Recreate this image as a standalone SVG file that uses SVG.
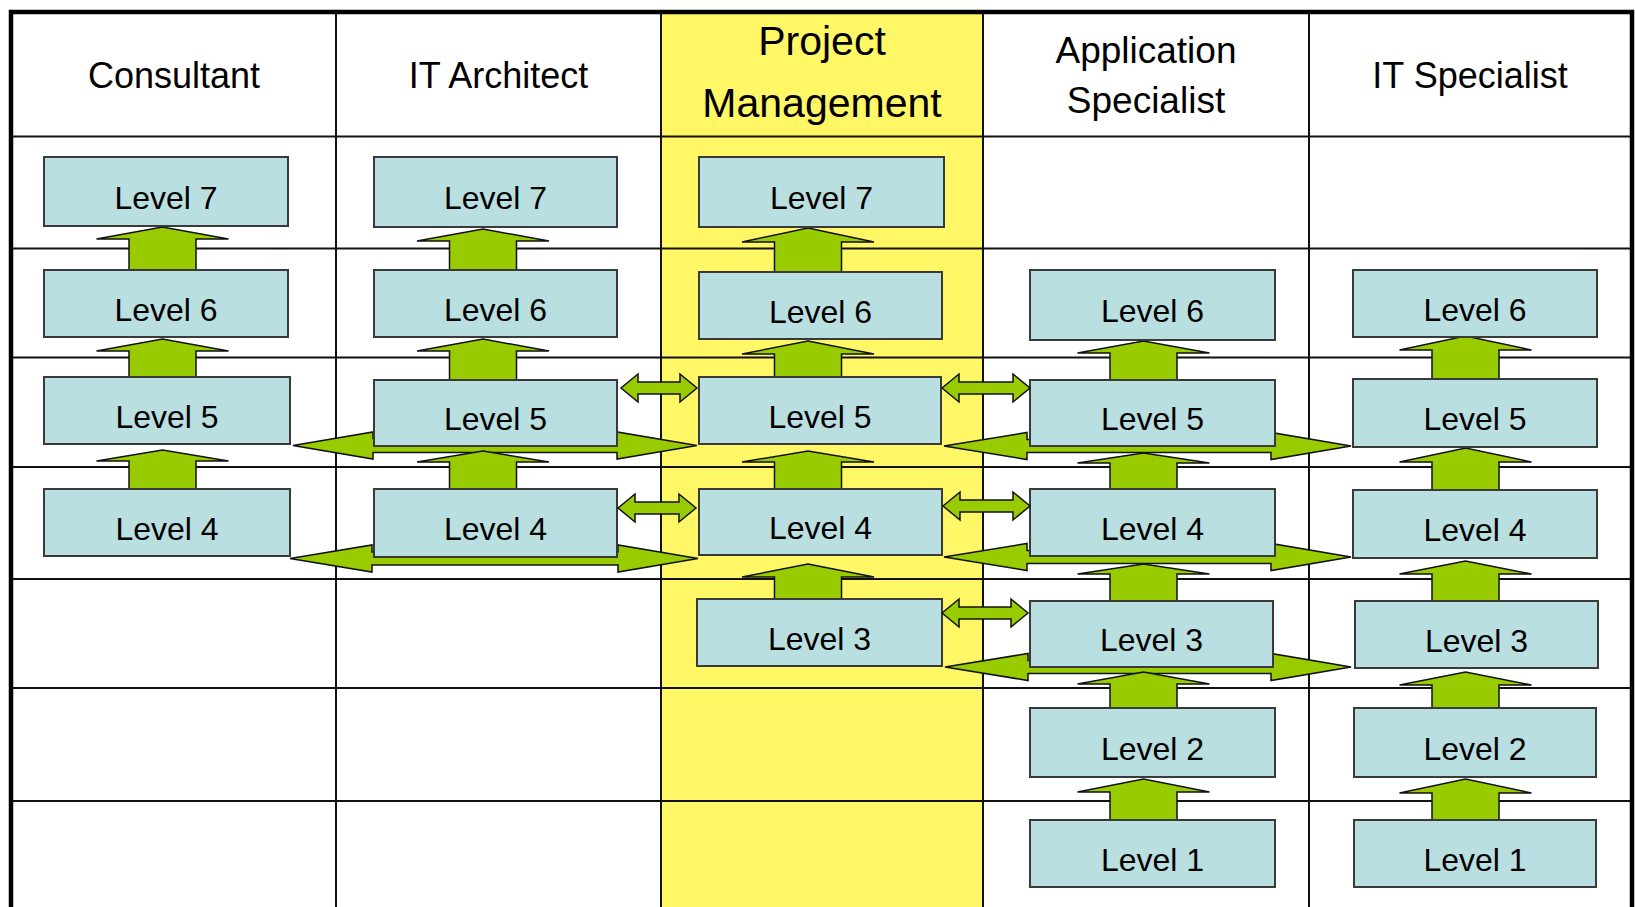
<svg xmlns="http://www.w3.org/2000/svg" width="1635" height="907" viewBox="0 0 1635 907">
<style>
.grid{stroke:#111;stroke-width:2;fill:none}
.border{stroke:#000;stroke-width:4.5;fill:none}
.hdr{font-family:"Liberation Sans",Arial,sans-serif;font-size:36px;fill:#000;text-anchor:middle}
.box rect{fill:#b9dfe0;stroke:#3a3a3a;stroke-width:2}
.box text{font-family:"Liberation Sans",Arial,sans-serif;font-size:32px;fill:#000;text-anchor:middle}
.arr{fill:#99cc00;stroke:#111;stroke-width:1.5;stroke-linejoin:miter}
</style>
<rect width="1635" height="907" fill="#ffffff"/>
<rect x="661" y="12" width="322" height="895" fill="#fff766"/>
<g id="grid">
<path class="grid" d="M336,12V907M661,12V907M983,12V907M1309,12V907"/>
<path class="grid" d="M11,136.5H1632M11,248.5H1632M11,357.5H1632M11,467H1632M11,579H1632M11,688H1632M11,801H1632"/>
<path class="border" d="M11,907V12H1632V907"/>
</g>
<g id="headers">
<text class="hdr" x="174" y="88">Consultant</text>
<text class="hdr" x="498.5" y="88">IT Architect</text>
<text class="hdr" x="822" y="55" style="font-size:41px">Project</text>
<text class="hdr" x="822" y="117" style="font-size:41px">Management</text>
<text class="hdr" x="1146" y="63" style="font-size:37px">Application</text>
<text class="hdr" x="1146" y="113" style="font-size:37px">Specialist</text>
<text class="hdr" x="1470" y="88">IT Specialist</text>
</g>
<g id="connectors">
<!-- wide horizontal double arrows behind boxes -->
<path class="arr" d="M293,445.5L373,432L373,438.5L617,438.5L617,432L697,445.5L617,459L617,452.5L373,452.5L373,459Z"/>
<path class="arr" d="M290,558.5L372,545L372,552L618,552L618,545L698,558.5L618,572L618,565L372,565L372,572Z"/>
<path class="arr" d="M944,446L1027,432.5L1027,439.5L1271,439.5L1271,432.5L1351,446L1271,459.5L1271,452.5L1027,452.5L1027,459.5Z"/>
<path class="arr" d="M944,557L1027,543.5L1027,550.5L1271,550.5L1271,543.5L1351,557L1271,570.5L1271,563.5L1027,563.5L1027,570.5Z"/>
<path class="arr" d="M945,667L1028,653.5L1028,660.5L1271,660.5L1271,653.5L1351,667L1271,680.5L1271,673.5L1028,673.5L1028,680.5Z"/>
<!-- up arrows: Consultant -->
<path class="arr" d="M129,270V239H96.5L162.5,227L228.5,239H196V270Z"/>
<path class="arr" d="M129,377V351H96.5L162.5,339L228.5,351H196V377Z"/>
<path class="arr" d="M129,489V461H96.5L162.5,450L228.5,461H196V489Z"/>
<!-- IT Architect -->
<path class="arr" d="M449.5,270V241H417L483,229L549,241H516.5V270Z"/>
<path class="arr" d="M449.5,380V351H417L483,339L549,351H516.5V380Z"/>
<path class="arr" d="M449.5,489V462H417L483,451L549,462H516.5V489Z"/>
<!-- Project Management -->
<path class="arr" d="M774.5,272V242H742L808,228L874,242H841.5V272Z"/>
<path class="arr" d="M774.5,377V354H742L808,341L874,354H841.5V377Z"/>
<path class="arr" d="M774.5,489V462H742L808,451L874,462H841.5V489Z"/>
<path class="arr" d="M774.5,599V577H742L808,564L874,577H841.5V599Z"/>
<!-- Application Specialist -->
<path class="arr" d="M1110,380V353H1077.5L1143.5,341L1209.5,353H1177V380Z"/>
<path class="arr" d="M1110,489V463H1077.5L1143.5,453L1209.5,463H1177V489Z"/>
<path class="arr" d="M1110,601V574H1077.5L1143.5,564L1209.5,574H1177V601Z"/>
<path class="arr" d="M1110,708V684H1077.5L1143.5,672L1209.5,684H1177V708Z"/>
<path class="arr" d="M1110,820V792H1077.5L1143.5,779L1209.5,792H1177V820Z"/>
<!-- IT Specialist -->
<path class="arr" d="M1432,379V350H1399.5L1465.5,336L1531.5,350H1499V379Z"/>
<path class="arr" d="M1432,490V462H1399.5L1465.5,448L1531.5,462H1499V490Z"/>
<path class="arr" d="M1432,601V574H1399.5L1465.5,561L1531.5,574H1499V601Z"/>
<path class="arr" d="M1432,708V685H1399.5L1465.5,672L1531.5,685H1499V708Z"/>
<path class="arr" d="M1432,820V793H1399.5L1465.5,779L1531.5,793H1499V820Z"/>
</g>
<g id="cons-l7" class="box"><rect x="44" y="157" width="244" height="69"/><text x="166" y="208.5">Level 7</text></g>
<g id="cons-l6" class="box"><rect x="44" y="270" width="244" height="67"/><text x="166" y="320.5">Level 6</text></g>
<g id="cons-l5" class="box"><rect x="44" y="377" width="246" height="67"/><text x="167" y="427.5">Level 5</text></g>
<g id="cons-l4" class="box"><rect x="44" y="489" width="246" height="67"/><text x="167" y="539.5">Level 4</text></g>
<g id="arch-l7" class="box"><rect x="374" y="157" width="243" height="70"/><text x="495.5" y="209">Level 7</text></g>
<g id="arch-l6" class="box"><rect x="374" y="270" width="243" height="67"/><text x="495.5" y="320.5">Level 6</text></g>
<g id="arch-l5" class="box"><rect x="374" y="380" width="243" height="66"/><text x="495.5" y="430">Level 5</text></g>
<g id="arch-l4" class="box"><rect x="374" y="489" width="243" height="68"/><text x="495.5" y="540">Level 4</text></g>
<g id="pm-l7" class="box"><rect x="699" y="157" width="245" height="70"/><text x="821.5" y="209">Level 7</text></g>
<g id="pm-l6" class="box"><rect x="699" y="272" width="243" height="67"/><text x="820.5" y="322.5">Level 6</text></g>
<g id="pm-l5" class="box"><rect x="699" y="377" width="242" height="67"/><text x="820" y="427.5">Level 5</text></g>
<g id="pm-l4" class="box"><rect x="699" y="489" width="243" height="66"/><text x="820.5" y="539">Level 4</text></g>
<g id="pm-l3" class="box"><rect x="697" y="599" width="245" height="67"/><text x="819.5" y="649.5">Level 3</text></g>
<g id="app-l6" class="box"><rect x="1030" y="270" width="245" height="70"/><text x="1152.5" y="322">Level 6</text></g>
<g id="app-l5" class="box"><rect x="1030" y="380" width="245" height="66"/><text x="1152.5" y="430">Level 5</text></g>
<g id="app-l4" class="box"><rect x="1030" y="489" width="245" height="67"/><text x="1152.5" y="539.5">Level 4</text></g>
<g id="app-l3" class="box"><rect x="1030" y="601" width="243" height="66"/><text x="1151.5" y="651">Level 3</text></g>
<g id="app-l2" class="box"><rect x="1030" y="708" width="245" height="69"/><text x="1152.5" y="759.5">Level 2</text></g>
<g id="app-l1" class="box"><rect x="1030" y="820" width="245" height="67"/><text x="1152.5" y="870.5">Level 1</text></g>
<g id="its-l6" class="box"><rect x="1353" y="270" width="244" height="67"/><text x="1475" y="320.5">Level 6</text></g>
<g id="its-l5" class="box"><rect x="1353" y="379" width="244" height="68"/><text x="1475" y="430">Level 5</text></g>
<g id="its-l4" class="box"><rect x="1353" y="490" width="244" height="68"/><text x="1475" y="541">Level 4</text></g>
<g id="its-l3" class="box"><rect x="1355" y="601" width="243" height="67"/><text x="1476.5" y="651.5">Level 3</text></g>
<g id="its-l2" class="box"><rect x="1354" y="708" width="242" height="69"/><text x="1475" y="759.5">Level 2</text></g>
<g id="its-l1" class="box"><rect x="1354" y="820" width="242" height="67"/><text x="1475" y="870.5">Level 1</text></g>
<g id="links">
<path class="arr" d="M621,388L638,374L638,382L680,382L680,374L697,388L680,402L680,394L638,394L638,402Z"/>
<path class="arr" d="M618,508L635,494L635,502L679,502L679,494L696,508L679,522L679,514L635,514L635,522Z"/>
<path class="arr" d="M942,388L959,374L959,382L1013,382L1013,374L1030,388L1013,402L1013,394L959,394L959,402Z"/>
<path class="arr" d="M943,506L960,492L960,500L1013,500L1013,492L1030,506L1013,520L1013,512L960,512L960,520Z"/>
<path class="arr" d="M942,613L959,599L959,607L1011,607L1011,599L1028,613L1011,627L1011,619L959,619L959,627Z"/>
</g>
</svg>
